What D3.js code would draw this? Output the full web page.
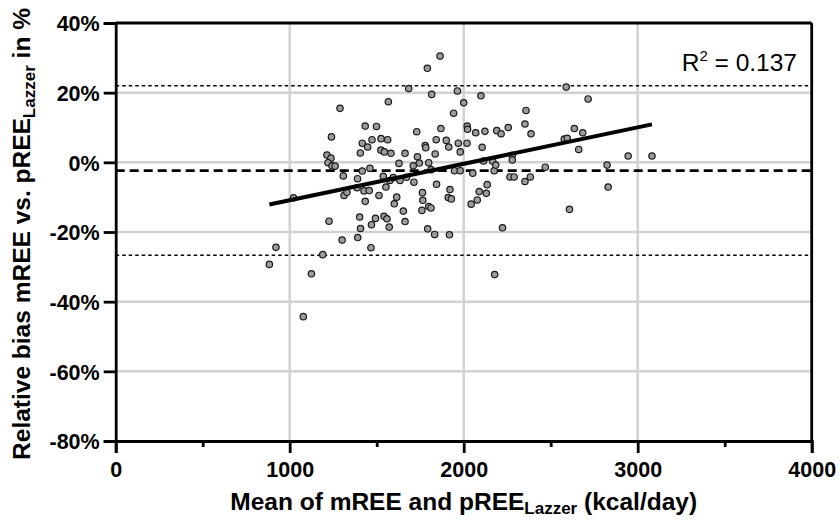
<!DOCTYPE html>
<html>
<head>
<meta charset="utf-8">
<script src="https://cdn.jsdelivr.net/npm/d3@7"></script>
<style>
  html, body { margin: 0; padding: 0; background: #fff; }
  svg { display: block; font-family: "Liberation Sans", Arial, sans-serif; }
</style>
</head>
<body>
<svg id="chart" width="840" height="520"></svg>
<script>
// ---- data ----
const meanREE = [883,921,1022,1078,1125,1190,1226,1214,1237,1220,1243,1261,1240,1289,1301,1308,1312,1329,1391,1390,
  1387,1402,1407,1406,1417,1417,1427,1434,1434,1448,1457,1461,1467,1470,1473,1493,1499,1513,1524,1525,
  1538,1542,1544,1553,1559,1563,1567,1572,1576,1582,1595,1601,1615,1628,1634,1653,1663,1663,1672,1684,
  1710,1714,1730,1734,1745,1763,1765,1760,1779,1782,1791,1793,1799,1799,1812,1812,1816,1833,1836,1842,
  1844,1864,1869,1900,1914,1911,1918,1921,1929,1942,1947,1964,1969,1980,1980,2000,2019,2020,2022,2043,
  2052,2069,2078,2089,2099,2106,2114,2122,2130,2135,2167,2175,2178,2184,2190,2215,2223,2256,2266,2279,
  2279,2290,2352,2352,2358,2383,2387,2469,2578,2589,2595,2608,2636,2661,2684,2715,2824,2830,2945,3082];
const relBias = [-29.3,-24.4,-10.2,-44.3,-32.0,-26.5,-16.9,2.1,1.2,-0.1,-1.0,-1.1,7.3,15.5,-22.3,-3.9,-9.5,-8.6,-21.6,-4.7,
  -7.3,-15.7,-19.0,2.7,5.5,-2.5,-8.2,10.4,-11.2,4.4,-8.1,-1.7,-24.5,-17.9,6.5,-16.1,10.3,-9.5,3.5,6.8,
  -4.0,-15.5,3.0,-7.1,-16.2,6.5,17.4,-18.6,-5.2,2.6,-4.4,-11.9,-10.0,-0.3,-5.2,-14.0,-17.0,2.6,-4.3,21.2,
  -1.0,-5.7,8.8,1.6,-0.2,-8.7,-10.9,-13.8,4.8,4.2,27.0,-19.1,-0.1,-12.7,-2.1,-13.1,19.5,-20.7,2.4,6.5,
  -6.3,30.5,9.7,6.3,4.4,-10.1,-20.8,-7.8,-10.5,14.1,-2.4,20.5,5.5,-2.4,3.0,17.1,5.5,10.4,9.5,-12.0,
  -3.1,8.5,-10.8,-8.4,19.1,4.3,0.4,8.9,-8.9,-6.4,0.3,-2.4,-32.2,-0.8,9.1,8.2,-18.8,10.0,-4.2,2.0,
  0.7,-4.2,-5.5,11.0,14.9,-4.2,8.2,-1.4,6.7,21.6,6.9,-13.5,9.7,3.7,8.5,18.2,-0.8,-7.1,1.8,1.8];
const meanBias = -2.4;
const limitsOfAgreement = [22.0, -26.7];
const regressionX = [883, 3082];
const regressionY = [-12.1, 10.9];
const xTicks = [0, 1000, 2000, 3000, 4000];
const xMinorTicks = [500, 1500, 2500, 3500];
const yTicks = [40, 20, 0, -20, -40, -60, -80];
const rSquared = "0.137";

// ---- layout ----
const svg = d3.select("#chart");
const L = 115.7, R = 811.7, T = 23, B = 441;
const x = d3.scaleLinear().domain([0, 4000]).range([L, R]);
const y = d3.scaleLinear().domain([-80, 40]).range([B, T]);

// grid
const grid = svg.append("g");
grid.selectAll("line.vg").data(xTicks.filter(d => d > 0 && d < 4000)).enter().append("line")
  .attr("x1", d => x(d)).attr("x2", d => x(d)).attr("y1", T).attr("y2", B)
  .attr("stroke", "#d2d2d2").attr("stroke-width", 2.5);
grid.selectAll("line.hg").data(yTicks.filter(d => d > -80 && d < 40)).enter().append("line")
  .attr("y1", d => y(d)).attr("y2", d => y(d)).attr("x1", L).attr("x2", R)
  .attr("stroke", "#d2d2d2").attr("stroke-width", 2.5);

// limits of agreement (dotted)
svg.selectAll("line.loa").data(limitsOfAgreement).enter().append("line")
  .attr("x1", L).attr("x2", R).attr("y1", d => y(d)).attr("y2", d => y(d))
  .attr("stroke", "#000").attr("stroke-width", 1.5).attr("stroke-dasharray", "3.5,3");

// mean bias (dashed)
svg.append("line").attr("x1", L).attr("x2", R).attr("y1", y(meanBias)).attr("y2", y(meanBias))
  .attr("stroke", "#000").attr("stroke-width", 2.8).attr("stroke-dasharray", "9,5");

// points
svg.append("g").selectAll("circle").data(meanREE.map((v, i) => [v, relBias[i]])).enter().append("circle")
  .attr("cx", d => x(d[0])).attr("cy", d => y(d[1])).attr("r", 3.2)
  .attr("fill", "#9c9c9c").attr("stroke", "#1a1a1a").attr("stroke-width", 1.2);

// regression line
svg.append("line")
  .attr("x1", x(regressionX[0])).attr("y1", y(regressionY[0]))
  .attr("x2", x(regressionX[1])).attr("y2", y(regressionY[1]))
  .attr("stroke", "#000").attr("stroke-width", 4);

// frame (top & right)
svg.append("line").attr("x1", L).attr("x2", R).attr("y1", T).attr("y2", T).attr("stroke", "#000").attr("stroke-width", 2.8);
svg.append("line").attr("x1", R).attr("x2", R).attr("y1", T).attr("y2", B).attr("stroke", "#000").attr("stroke-width", 2.8);

// axes
const xAxis = svg.append("g").attr("transform", `translate(0,${B})`)
  .call(d3.axisBottom(x).tickValues(xTicks).tickSize(12).tickPadding(9).tickFormat(d3.format("d")));
svg.append("g").attr("transform", `translate(0,${B})`)
  .call(d3.axisBottom(x).tickValues(xMinorTicks).tickSize(6).tickFormat(""))
  .call(g => g.select(".domain").remove())
  .selectAll("line").attr("stroke-width", 2.8);
const yAxis = svg.append("g").attr("transform", `translate(${L},0)`)
  .call(d3.axisLeft(y).tickValues(yTicks).tickSize(12).tickPadding(4).tickFormat(d => d + "%"));
[xAxis, yAxis].forEach(g => {
  g.select(".domain").attr("stroke-width", 2.8).attr("stroke", "#000");
  g.selectAll(".tick line").attr("stroke-width", 2.8).attr("stroke", "#000");
  g.selectAll("text").attr("font-family", "Liberation Sans, Arial, sans-serif")
    .attr("font-size", 21.5).attr("font-weight", "bold").attr("fill", "#000");
});
yAxis.selectAll("text").attr("dy", "0.36em");

// x title
const xt = svg.append("text").attr("x", (L + R) / 2).attr("y", 510).attr("text-anchor", "middle")
  .attr("font-size", 24.5).attr("font-weight", "bold");
xt.append("tspan").text("Mean of mREE and pREE");
xt.append("tspan").attr("font-size", 17).attr("dy", 4).text("Lazzer");
xt.append("tspan").attr("dy", -4).text(" (kcal/day)");

// y title
const yt = svg.append("text").attr("transform", `translate(30,${(T + B) / 2 + 2}) rotate(-90)`)
  .attr("text-anchor", "middle").attr("font-size", 24.5).attr("font-weight", "bold");
yt.append("tspan").text("Relative bias mREE vs. pREE");
yt.append("tspan").attr("font-size", 17).attr("dy", 5).text("Lazzer");
yt.append("tspan").attr("dy", -5).text(" in %");

// R squared
const rt = svg.append("text").attr("x", 797).attr("y", 71).attr("text-anchor", "end").attr("font-size", 24.5);
rt.append("tspan").text("R");
rt.append("tspan").attr("font-size", 15).attr("dy", -10).text("2");
rt.append("tspan").attr("dy", 10).text(" = " + rSquared);
</script>
</body>
</html>
